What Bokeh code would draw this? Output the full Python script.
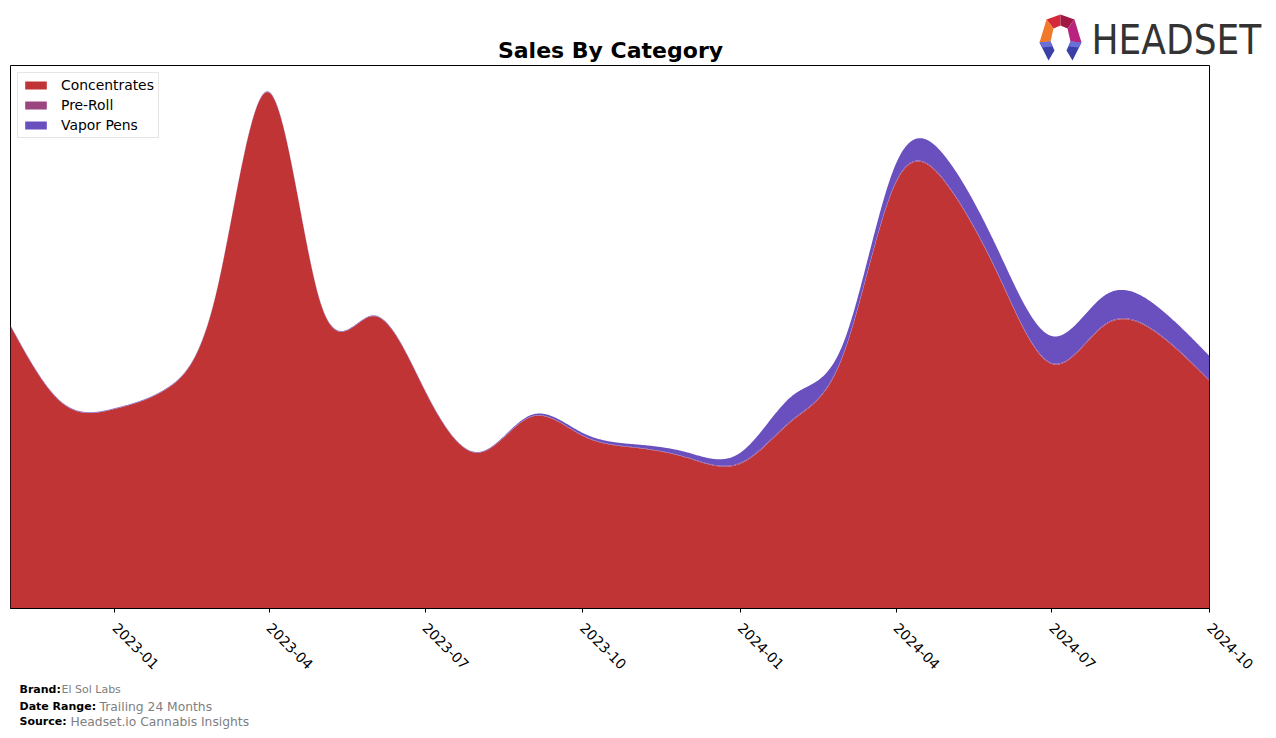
import numpy as np
import pandas as pd
from bokeh.plotting import figure
from bokeh.layouts import column
from bokeh.models import (Range1d, FixedTicker, DatetimeTickFormatter, Label,
                          Legend, LegendItem)
from bokeh.embed import file_html
from bokeh.resources import INLINE

# ---------------- data (monthly, trailing 24 months) ----------------
months = ["2022-11", "2022-12", "2023-01", "2023-02", "2023-03", "2023-04",
          "2023-05", "2023-06", "2023-07", "2023-08", "2023-09", "2023-10",
          "2023-11", "2023-12", "2024-01", "2024-02", "2024-03", "2024-04",
          "2024-05", "2024-06", "2024-07", "2024-08", "2024-09", "2024-10"]
concentrates = [283, 206, 200, 221, 315, 517, 306, 293, 218, 156, 192, 173,
                161, 151, 145, 189, 253, 427, 424, 329, 245, 284, 275, 228]
pre_roll = [0.3, 0.3, 0.3, 0.3, 0.3, 0.3, 0.3, 0.3, 0.3, 0.3, 0.5, 0.5,
            0.5, 0.5, 1.0, 1.0, 1.0, 1.0, 1.0, 1.0, 1.0, 1.0, 1.0, 1.0]
vapor_pens = [0.5, 0.5, 0.5, 0.5, 0.5, 0.5, 0.5, 0.5, 0.5, 0.5, 1.5, 2.5,
              3, 5, 10, 24, 11, 18, 25, 24, 27, 29, 26, 24]
tick_labels = ["2023-01", "2023-04", "2023-07", "2023-10",
               "2024-01", "2024-04", "2024-07", "2024-10"]
series_names = ["Concentrates", "Pre-Roll", "Vapor Pens"]
series_colors = ["#C13435", "#9B4580", "#6A4FBF"]

title_txt = "Sales By Category"
brand = "El Sol Labs"
date_range = "Trailing 24 Months"
source_txt = "Headset.io Cannabis Insights"


# ---------------- smoothing (natural cubic spline for drawing) ----------------
def smooth(x, y, xs):
    x = np.asarray(x, float)
    y = np.asarray(y, float)
    n = len(x)
    h = np.diff(x)
    A = np.zeros((n, n))
    b = np.zeros(n)
    A[0, 0] = 1.0
    A[-1, -1] = 1.0
    for i in range(1, n - 1):
        A[i, i - 1] = h[i - 1]
        A[i, i] = 2 * (h[i - 1] + h[i])
        A[i, i + 1] = h[i]
        b[i] = 3 * ((y[i + 1] - y[i]) / h[i] - (y[i] - y[i - 1]) / h[i - 1])
    c = np.linalg.solve(A, b)
    bc = (y[1:] - y[:-1]) / h - h * (2 * c[:-1] + c[1:]) / 3
    d = (c[1:] - c[:-1]) / (3 * h)
    idx = np.clip(np.searchsorted(x, xs) - 1, 0, n - 2)
    dx = xs - x[idx]
    return y[idx] + bc[idx] * dx + c[idx] * dx ** 2 + d[idx] * dx ** 3


dates = pd.to_datetime([m + "-01" for m in months])
xd = np.array((dates - dates[0]).days, dtype=float)
xs = np.linspace(0, xd[-1], 1500)
xs_dt = dates[0] + pd.to_timedelta(xs, unit="D")

layers = []
base = np.zeros_like(xs)
for vals in (concentrates, pre_roll, vapor_pens):
    s = np.clip(smooth(xd, vals, xs), 0, None)
    layers.append((base.copy(), base + s))
    base = base + s
ymax = base.max() * 1.05

W = 1276
FONT = "DejaVu Sans"


def blank(height, y0):
    f = figure(width=W, height=height, output_backend="svg", toolbar_location=None,
               x_axis_location=None, y_axis_location=None,
               x_range=Range1d(0, W), y_range=Range1d(y0 + height, y0),
               min_border=0, min_border_left=0, min_border_right=0,
               min_border_top=0, min_border_bottom=0)
    f.frame_align = False
    f.outline_line_color = None
    f.xgrid.grid_line_color = None
    f.ygrid.grid_line_color = None
    f.background_fill_color = "white"
    f.border_fill_color = "white"
    return f


def lab(f, x, y, text, size, color="black", bold=False, align="left", font=FONT):
    f.add_layout(Label(x=x, y=y, text=text, text_font=font, text_font_size=size,
                       text_color=color, text_align=align, text_baseline="middle",
                       text_font_style="bold" if bold else "normal"))


# ---------------- header (title + logo) ----------------
HH = 64
head = blank(HH, 0)
lab(head, 610, 50, title_txt, "22px", bold=True, align="center")
lab(head, 1091, 39, "HEADSET", "40px", color="#333333",
    font="DejaVu Sans Condensed")
icon = [
    ([1046, 1060, 1060, 1053], [19, 14, 25, 28], "#D42A3A"),
    ([1060, 1074, 1067, 1060], [14, 19, 28, 25], "#A01845"),
    ([1046, 1053, 1050, 1039], [19, 28, 41, 42], "#F07A2A"),
    ([1074, 1081, 1070, 1067], [19, 42, 41, 28], "#B8237D"),
    ([1039, 1050, 1054, 1048], [42, 41, 50, 60], "#3B3FA8"),
    ([1081, 1070, 1066, 1072], [42, 41, 50, 60], "#3B3FA8"),
    ([1039, 1050, 1052, 1042], [42, 41, 46, 47], "#6B6FD8"),
    ([1081, 1070, 1068, 1078], [42, 41, 46, 47], "#6B6FD8"),
]
head.patches(xs=[i[0] for i in icon], ys=[i[1] for i in icon],
             fill_color=[i[2] for i in icon], line_color=None)

# ---------------- main chart ----------------
FL, FR, FT, FB = 10, 1209, 65, 608
MH = 678 - HH
p = figure(width=W, height=MH, output_backend="svg", toolbar_location=None,
           x_axis_type="datetime", y_axis_location=None,
           x_range=Range1d(dates[0], dates[-1]), y_range=Range1d(0, ymax),
           min_border_left=FL, min_border_right=W - FR,
           min_border_top=FT - HH, min_border_bottom=MH - (FB - HH))
p.frame_align = False
p.xgrid.grid_line_color = None
p.ygrid.grid_line_color = None
p.outline_line_color = "black"
p.outline_line_width = 1
p.background_fill_color = "white"
p.border_fill_color = "white"

items = []
for (lo, hi), name, col in zip(layers, series_names, series_colors):
    r = p.varea(x=xs_dt, y1=lo, y2=hi, fill_color=col, fill_alpha=1.0)
    items.append(LegendItem(label=name, renderers=[r]))

legend = Legend(items=items, location="top_left", margin=7, padding=4,
                spacing=4, glyph_width=27, glyph_height=10, label_height=16,
                label_standoff=12, label_text_font=FONT,
                label_text_font_size="13.9px", label_text_color="black",
                border_line_color="#cccccc", border_line_width=1,
                background_fill_color="white", background_fill_alpha=0.8)
p.add_layout(legend, "center")

tick_ms = [pd.Timestamp(t + "-01").value / 1e6 for t in tick_labels]
ax = p.xaxis[0]
ax.ticker = FixedTicker(ticks=tick_ms)
ax.formatter = DatetimeTickFormatter(months="%Y-%m", days="%Y-%m", years="%Y-%m",
                                     hours="%Y-%m", minutes="%Y-%m")
ax.major_label_orientation = -np.pi / 4
ax.major_label_text_font = FONT
ax.major_label_text_font_size = "14px"
ax.major_label_text_color = "black"
ax.major_label_standoff = 13
ax.major_tick_out = 4
ax.major_tick_in = 0
ax.minor_tick_out = 0
ax.minor_tick_in = 0
ax.axis_line_color = "black"
ax.major_tick_line_color = "black"

# ---------------- footer ----------------
FH = 738 - 678
foot = blank(FH, 678)
lab(foot, 19, 689, "Brand:", "11px", bold=True)
lab(foot, 61, 689, brand, "11px", color="#808080")
lab(foot, 19, 706, "Date Range:", "11px", bold=True)
lab(foot, 99, 706, date_range, "12.3px", color="#808080")
lab(foot, 19, 721, "Source:", "11px", bold=True)
lab(foot, 70, 721, source_txt, "12.3px", color="#808080")

layout = column(head, p, foot, spacing=0)
open("out.html", "w").write(file_html(layout, INLINE))
